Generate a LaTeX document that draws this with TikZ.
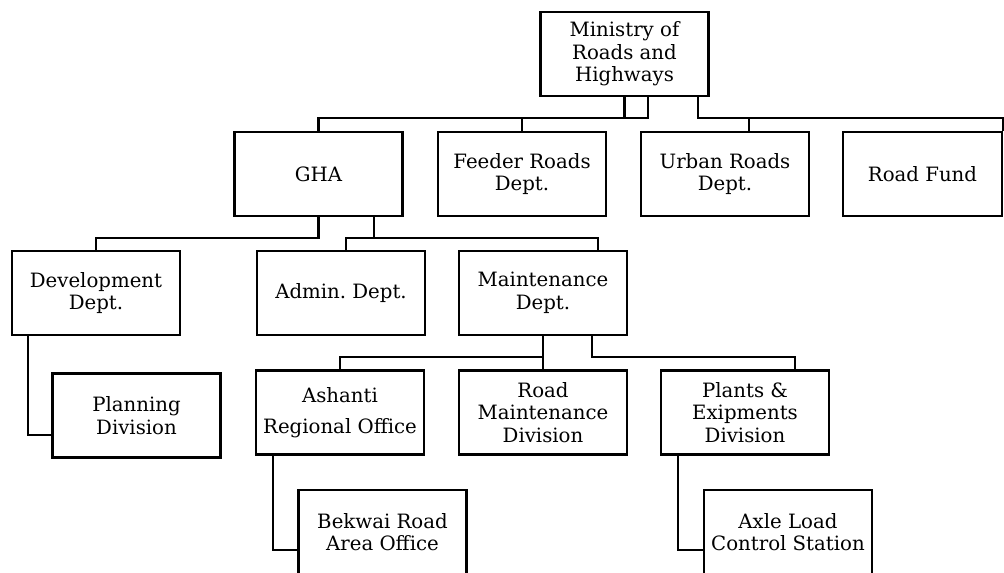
\documentclass[tikz,border=0pt]{standalone}
\usepackage{fontspec}
\setmainfont{DejaVu Serif}
\usetikzlibrary{calc}
\frenchspacing

\begin{document}
\begin{tikzpicture}[x=0.75pt, y=-0.75pt,
  org box/.style={rectangle, draw, line width=1.8pt, align=center,
    minimum width=126pt, minimum height=63pt, inner sep=2pt,
    font=\fontsize{14.8}{17}\selectfont},
  link/.style={draw, line width=1.8pt}]
  \useasboundingbox (0,0) rectangle (1004,572);
  \clip (0,0) rectangle (1004,572);

  \node[org box] (min) at (624.5,54) {Ministry of\\Roads and\\Highways};
  \node[org box] (gha) at (318.5,174) {GHA};
  \node[org box] (feeder) at (522,174) {Feeder Roads\\Dept.};
  \node[org box] (urban) at (725,174) {Urban Roads\\Dept.};
  \node[org box, minimum width=119pt] (fund) at (922.5,174) {Road Fund};
  \node[org box] (dev) at (96,293) {Development\\Dept.};
  \node[org box] (admin) at (341,293) {Admin. Dept.};
  \node[org box] (maint) at (543,293) {Maintenance\\Dept.};
  \node[org box] (plan) at (136.5,415.5) {Planning\\Division};
  \node[org box] (ashanti) at (340,412.5) {Ashanti\\[6pt]Regional Office};
  \node[org box] (roadm) at (543,412.5) {Road\\Maintenance\\Division};
  \node[org box] (plants) at (745,412.5) {Plants \&\\Exipments\\Division};
  \node[org box] (bekwai) at (382.5,532) {Bekwai Road\\Area Office};
  \node[org box] (axle) at (788,532) {Axle Load\\Control Station};

  % ministry level
  \draw[link] (min.south) -- ++(0,21) -| (gha.north);
  \draw[link] ($(min.south)+(23.5,0)$) -- ++(0,21) -| (feeder.north);
  \draw[link] ($(min.south)+(73.5,0)$) -- ++(0,21) -| ($(urban.north)+(24,0)$);
  \draw[link] ($(min.south)+(73.5,0)$) -- ++(0,21) -| (fund.north east);

  % GHA level
  \draw[link] (gha.south) -- ++(0,21) -| (dev.north);
  \draw[link] ($(gha.south)+(55.5,0)$) -- ++(0,21) -| ($(admin.north)+(5,0)$);
  \draw[link] ($(gha.south)+(55.5,0)$) -- ++(0,21) -| ($(maint.north)+(55,0)$);
  \draw[link] ($(dev.south)+(-68,0)$) |- ($(plan.west)+(0,19.5)$);

  % maintenance level
  \draw[link] (maint.south) -- (roadm.north);
  \draw[link] (maint.south) -- ++(0,21) -| (ashanti.north);
  \draw[link] ($(maint.south)+(49,0)$) -- ++(0,21) -| ($(plants.north)+(50,0)$);
  \draw[link] ($(ashanti.south)+(-67,0)$) |- ($(bekwai.west)+(0,18)$);
  \draw[link] ($(plants.south)+(-67,0)$) |- ($(axle.west)+(0,18)$);
\end{tikzpicture}
\end{document}
